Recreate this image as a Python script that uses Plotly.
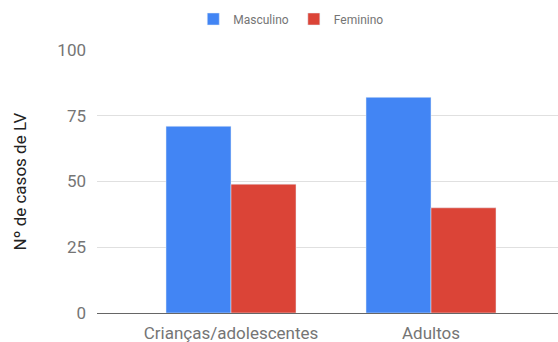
import plotly.graph_objects as go

categories = ["Crianças/adolescentes", "Adultos"]
masculino = [71, 82]
feminino = [49, 40]
y_ticks = [0, 25, 50, 75, 100]

fig = go.Figure()
fig.add_trace(go.Bar(name="Masculino", x=categories, y=masculino, marker=dict(color="#4285F4")))
fig.add_trace(go.Bar(name="Feminino", x=categories, y=feminino, marker=dict(color="#DB4437")))

fig.update_layout(
    width=558, height=342,
    margin=dict(l=97, r=0, t=50, b=29),
    plot_bgcolor="white", paper_bgcolor="white",
    barmode="group", bargap=0.35, bargroupgap=0,
    font=dict(family="Roboto", color="#757575", size=17),
    showlegend=True,
    legend=dict(orientation="h", xref="container", yref="container",
                x=0.522, xanchor="center", y=1 - 19 / 342, yanchor="middle",
                font=dict(size=12, color="#757575"), itemwidth=30,
                traceorder="normal"),
    xaxis=dict(range=[-0.67, 1.635], showgrid=False, ticks="", ticklabelstandoff=8,
               tickfont=dict(size=17, color="#757575"), showline=False, zeroline=False),
    yaxis=dict(range=[0, 100], tickvals=y_ticks, showgrid=True, gridcolor="#e0e0e0",
               zeroline=True, zerolinecolor="#666666", zerolinewidth=1.3,
               ticks="", ticklabelstandoff=10, tickfont=dict(size=17, color="#757575"),
               title=dict(text="Nº de casos de LV", font=dict(size=17, color="#222222"), standoff=26),
               automargin=False),
)

fig.write_html("out.html")
